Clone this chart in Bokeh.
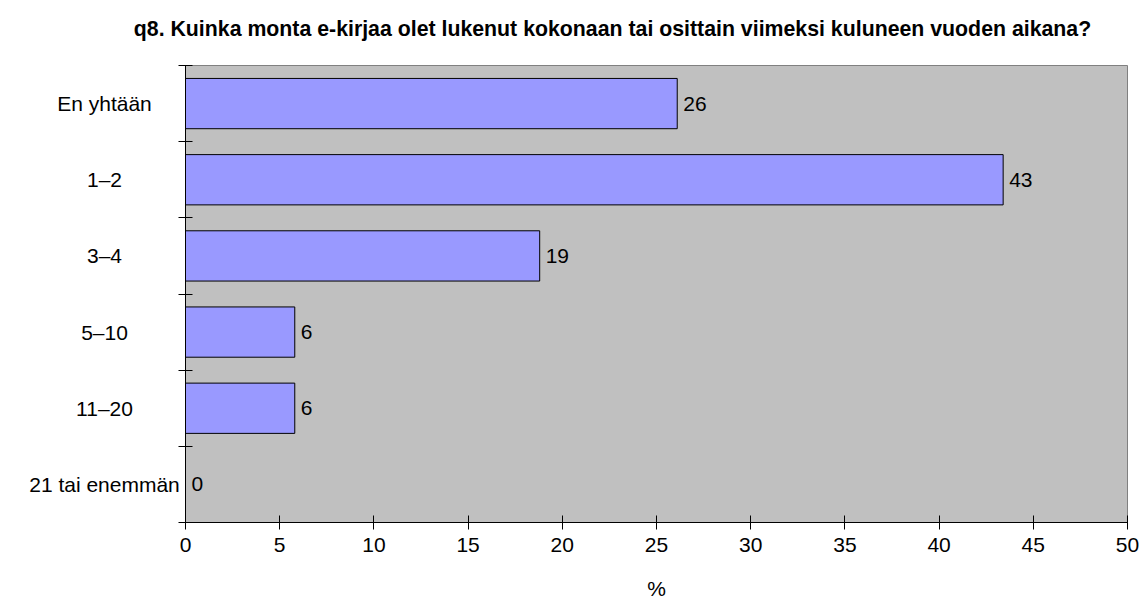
from bokeh.plotting import figure
from bokeh.models import Range1d, FixedTicker, ColumnDataSource, LabelSet, Label
from bokeh.core.properties import value
from bokeh.embed import file_html
from bokeh.resources import INLINE

# ---- data ----
categories = ["En yhtään", "1\u20132", "3\u20134", "5\u201310", "11\u201320", "21 tai enemmän"]
percent = [26.1, 43.4, 18.8, 5.8, 5.8, 0.0]
x_ticks = [0, 5, 10, 15, 20, 25, 30, 35, 40, 45, 50]
title_text = "q8. Kuinka monta e-kirjaa olet lukenut kokonaan tai osittain viimeksi kuluneen vuoden aikana?"
x_label = "%"

FONT = "Liberation Sans"
n = len(categories)
ypos = [n - 1 - i + 0.5 for i in range(n)]
labels = [f"{v:.0f}" for v in percent]

# layout (pixels)
W, H = 1140, 600
AREA_LEFT, AREA_RIGHT = 185, 1127
AREA_TOP, AREA_BOTTOM = 65, 522
X_MIN, X_MAX = x_ticks[0], x_ticks[-1]
x_per_px = (X_MAX - X_MIN) / (AREA_RIGHT - AREA_LEFT)
x_start = X_MIN - AREA_LEFT * x_per_px
x_end = X_MAX + (W - AREA_RIGHT) * x_per_px
y_per_px = n / (AREA_BOTTOM - AREA_TOP)
y_end = n + AREA_TOP * y_per_px
y_start = -(H - AREA_BOTTOM) * y_per_px

src = ColumnDataSource(dict(cat=categories, y=ypos, v=percent, lab=labels))

p = figure(width=W, height=H, output_backend="svg", toolbar_location=None,
           x_range=Range1d(x_start, x_end), y_range=Range1d(y_start, y_end),
           min_border_left=0, min_border_right=0,
           min_border_top=0, min_border_bottom=0)
p.title = None

p.border_fill_color = "white"
p.background_fill_color = "white"
p.outline_line_color = None
p.xgrid.visible = False
p.ygrid.visible = False

# plot area
p.quad(left=X_MIN, right=X_MAX, bottom=0, top=n, fill_color="#C0C0C0", line_color="#808080", line_width=1)

# bars
p.hbar(y="y", right="v", left=0, height=0.66, source=src,
       fill_color="#9999FF", line_color="black", line_width=1)

# value labels
p.text(x="v", y="y", text="lab", source=src, x_offset=6,
       text_align="left", text_baseline="middle",
       text_font=value(FONT), text_font_size="21px", text_color="black")

# x axis at y = 0
xa = p.xaxis[0]
xa.fixed_location = 0
xa.ticker = FixedTicker(ticks=x_ticks)
xa.bounds = (X_MIN, X_MAX)
xa.major_label_text_font = FONT
xa.major_label_text_font_size = "21px"
xa.major_label_text_color = "black"
xa.major_label_standoff = 8
xa.major_tick_in = 7
xa.major_tick_out = 7
xa.minor_tick_line_color = None
xa.axis_line_color = "black"
xa.major_tick_line_color = "black"

# y axis at x = 0: ticks at category boundaries only
ya = p.yaxis[0]
ya.fixed_location = X_MIN
ya.bounds = (0, n)
ya.ticker = FixedTicker(ticks=[], minor_ticks=list(range(n + 1)))
ya.minor_tick_in = 7
ya.minor_tick_out = 7
ya.minor_tick_line_color = "black"
ya.major_tick_line_color = None
ya.axis_line_color = "black"

# category labels
cat_labels = LabelSet(x=104, x_units="screen", y="y", y_units="data", text="cat", source=src,
                      text_align="center", text_baseline="middle",
                      text_font=value(FONT), text_font_size="21px", text_color="black")
p.add_layout(cat_labels)

# x axis title, centred under the plot area
xlab = Label(x=(AREA_LEFT + AREA_RIGHT) / 2, y=H - 588, x_units="screen", y_units="screen", text=x_label,
             text_align="center", text_baseline="middle",
             text_font=FONT, text_font_size="21px", text_color="black")
p.add_layout(xlab)

# chart title
title = Label(x=612, y=H - 28, x_units="screen", y_units="screen", text=title_text,
              text_align="center", text_baseline="middle",
              text_font=FONT, text_font_size="21.3px", text_font_style="bold", text_color="black")
p.add_layout(title)

open("out.html", "w").write(file_html(p, INLINE))
